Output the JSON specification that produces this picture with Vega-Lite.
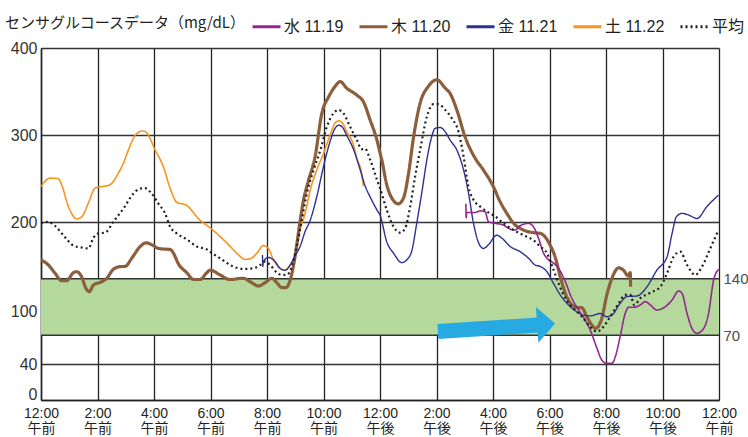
{
  "$schema": "https://vega.github.io/schema/vega-lite/v6.json",
  "width": 678,
  "height": 352,
  "autosize": {"type": "none"},
  "padding": {"left": 41, "top": 48, "right": 29, "bottom": 37},
  "background": "white",
  "config": {
    "view": {"stroke": null},
    "font": "Liberation Sans, Noto Sans CJK JP, sans-serif",
    "axis": {"labelFont": "Liberation Sans, Noto Sans CJK JP, sans-serif", "labelColor": "#231f20", "ticks": false, "domainColor": "#222222", "domainWidth": 1.5, "title": null},
    "legend": {"labelFont": "Liberation Sans, Noto Sans CJK JP, sans-serif", "titleFont": "Noto Sans CJK JP, sans-serif"}
  },
  "datasets": {
    "cgm": [
      {"day":"土 11.22","h":0.0,"v":240.7},{"day":"土 11.22","h":0.32,"v":250.6},{"day":"土 11.22","h":0.61,"v":250},{"day":"土 11.22","h":0.73,"v":243},{"day":"土 11.22","h":0.97,"v":218},{"day":"土 11.22","h":1.26,"v":203.5},{"day":"土 11.22","h":1.44,"v":206},{"day":"土 11.22","h":1.68,"v":222},{"day":"土 11.22","h":1.91,"v":239},{"day":"土 11.22","h":2.44,"v":243},{"day":"土 11.22","h":2.8,"v":260},{"day":"土 11.22","h":3.39,"v":302},{"day":"土 11.22","h":3.62,"v":305},{"day":"土 11.22","h":3.74,"v":303},{"day":"土 11.22","h":4.04,"v":283},{"day":"土 11.22","h":4.33,"v":264},{"day":"土 11.22","h":4.57,"v":239},{"day":"土 11.22","h":4.8,"v":223},{"day":"土 11.22","h":5.16,"v":219},{"day":"土 11.22","h":5.63,"v":202},{"day":"土 11.22","h":5.98,"v":194},{"day":"土 11.22","h":6.57,"v":178},{"day":"土 11.22","h":6.93,"v":167},{"day":"土 11.22","h":7.22,"v":160.5},{"day":"土 11.22","h":7.4,"v":161},{"day":"土 11.22","h":7.64,"v":167},{"day":"土 11.22","h":7.87,"v":175},{"day":"土 11.22","h":8.05,"v":172},{"day":"土 11.22","h":8.23,"v":160},{"day":"土 11.22","h":8.46,"v":151},{"day":"土 11.22","h":8.64,"v":149},{"day":"土 11.22","h":8.82,"v":154.5},{"day":"土 11.22","h":8.99,"v":165},{"day":"土 11.22","h":9.17,"v":191.5},{"day":"土 11.22","h":9.35,"v":210},{"day":"土 11.22","h":9.53,"v":237},{"day":"土 11.22","h":9.76,"v":260},{"day":"土 11.22","h":10.0,"v":279},{"day":"土 11.22","h":10.23,"v":300},{"day":"土 11.22","h":10.41,"v":314},{"day":"土 11.22","h":10.53,"v":316.5},{"day":"土 11.22","h":10.65,"v":315},{"day":"土 11.22","h":10.82,"v":304},{"day":"土 11.22","h":11.06,"v":289},{"day":"土 11.22","h":11.18,"v":273.5},{"day":"土 11.22","h":11.35,"v":256},{"day":"土 11.22","h":11.41,"v":241.5},

      {"day":"木 11.20","h":0.0,"v":160},{"day":"木 11.20","h":0.26,"v":154.5},{"day":"木 11.20","h":0.5,"v":145.7},{"day":"木 11.20","h":0.73,"v":137.5},{"day":"木 11.20","h":0.9,"v":137.5},{"day":"木 11.20","h":1.15,"v":146.4},{"day":"木 11.20","h":1.26,"v":147.4},{"day":"木 11.20","h":1.44,"v":142},{"day":"木 11.20","h":1.59,"v":128},{"day":"木 11.20","h":1.71,"v":124},{"day":"木 11.20","h":1.85,"v":132},{"day":"木 11.20","h":2.15,"v":136.3},{"day":"木 11.20","h":2.33,"v":140.5},{"day":"木 11.20","h":2.56,"v":150},{"day":"木 11.20","h":2.8,"v":152.8},{"day":"木 11.20","h":2.98,"v":153},{"day":"木 11.20","h":3.21,"v":161.6},{"day":"木 11.20","h":3.51,"v":174},{"day":"木 11.20","h":3.72,"v":178},{"day":"木 11.20","h":3.92,"v":176},{"day":"木 11.20","h":4.16,"v":172},{"day":"木 11.20","h":4.33,"v":171.4},{"day":"木 11.20","h":4.57,"v":171},{"day":"木 11.20","h":4.69,"v":167},{"day":"木 11.20","h":4.86,"v":156},{"day":"木 11.20","h":5.16,"v":146.4},{"day":"木 11.20","h":5.4,"v":139},{"day":"木 11.20","h":5.63,"v":139},{"day":"木 11.20","h":5.87,"v":146.4},{"day":"木 11.20","h":5.99,"v":149},{"day":"木 11.20","h":6.34,"v":144},{"day":"木 11.20","h":6.69,"v":139},{"day":"木 11.20","h":7.16,"v":140.5},{"day":"木 11.20","h":7.4,"v":136.3},{"day":"木 11.20","h":7.7,"v":131},{"day":"木 11.20","h":7.93,"v":135},{"day":"木 11.20","h":8.17,"v":140.5},{"day":"木 11.20","h":8.35,"v":135},{"day":"木 11.20","h":8.52,"v":129},{"day":"木 11.20","h":8.67,"v":129},{"day":"木 11.20","h":8.82,"v":138.4},{"day":"木 11.20","h":8.99,"v":163},{"day":"木 11.20","h":9.11,"v":188},{"day":"木 11.20","h":9.29,"v":225},{"day":"木 11.20","h":9.47,"v":248},{"day":"木 11.20","h":9.7,"v":275},{"day":"木 11.20","h":9.94,"v":325},{"day":"木 11.20","h":10.18,"v":344},{"day":"木 11.20","h":10.41,"v":356},{"day":"木 11.20","h":10.59,"v":361.6},{"day":"木 11.20","h":10.82,"v":354},{"day":"木 11.20","h":11.18,"v":346},{"day":"木 11.20","h":11.41,"v":338.6},{"day":"木 11.20","h":11.65,"v":317.6},{"day":"木 11.20","h":11.89,"v":294.6},{"day":"木 11.20","h":12.0,"v":280},{"day":"木 11.20","h":12.1,"v":266},{"day":"木 11.20","h":12.2,"v":248.5},{"day":"木 11.20","h":12.42,"v":227.5},{"day":"木 11.20","h":12.65,"v":221},{"day":"木 11.20","h":12.83,"v":227.5},{"day":"木 11.20","h":13.01,"v":256},{"day":"木 11.20","h":13.19,"v":298.4},{"day":"木 11.20","h":13.42,"v":336.8},{"day":"木 11.20","h":13.71,"v":356},{"day":"木 11.20","h":14.01,"v":363.6},{"day":"木 11.20","h":14.31,"v":354},{"day":"木 11.20","h":14.48,"v":348},{"day":"木 11.20","h":14.72,"v":329},{"day":"木 11.20","h":15.01,"v":298.4},{"day":"木 11.20","h":15.37,"v":273.5},{"day":"木 11.20","h":15.66,"v":260},{"day":"木 11.20","h":16.01,"v":241},{"day":"木 11.20","h":16.25,"v":223.5},{"day":"木 11.20","h":16.49,"v":210},{"day":"木 11.20","h":16.73,"v":198.6},{"day":"木 11.20","h":17.08,"v":191.5},{"day":"木 11.20","h":17.43,"v":188.7},{"day":"木 11.20","h":17.67,"v":188},{"day":"木 11.20","h":17.85,"v":184},{"day":"木 11.20","h":18.03,"v":175},{"day":"木 11.20","h":18.2,"v":163},{"day":"木 11.20","h":18.38,"v":142},{"day":"木 11.20","h":18.56,"v":122},{"day":"木 11.20","h":18.74,"v":109.6},{"day":"木 11.20","h":18.97,"v":104.6},{"day":"木 11.20","h":19.15,"v":104},{"day":"木 11.20","h":19.32,"v":93},{"day":"木 11.20","h":19.64,"v":78.7},{"day":"木 11.20","h":19.85,"v":91},{"day":"木 11.20","h":20.03,"v":120},{"day":"木 11.20","h":20.21,"v":140.5},{"day":"木 11.20","h":20.45,"v":151.5},{"day":"木 11.20","h":20.62,"v":149},{"day":"木 11.20","h":20.78,"v":143},{"day":"木 11.20","h":20.86,"v":146.4},{"day":"木 11.20","h":20.87,"v":130},

      {"day":"金 11.21","h":7.84,"v":165},{"day":"金 11.21","h":7.85,"v":153},{"day":"金 11.21","h":7.87,"v":158},{"day":"金 11.21","h":8.05,"v":162.5},{"day":"金 11.21","h":8.29,"v":158},{"day":"金 11.21","h":8.46,"v":151},{"day":"金 11.21","h":8.64,"v":149},{"day":"金 11.21","h":8.82,"v":154.5},{"day":"金 11.21","h":8.99,"v":164},{"day":"金 11.21","h":9.17,"v":174},{"day":"金 11.21","h":9.35,"v":190},{"day":"金 11.21","h":9.53,"v":202},{"day":"金 11.21","h":9.76,"v":229},{"day":"金 11.21","h":10.0,"v":264},{"day":"金 11.21","h":10.23,"v":292.6},{"day":"金 11.21","h":10.41,"v":308},{"day":"金 11.21","h":10.53,"v":311.5},{"day":"金 11.21","h":10.65,"v":310},{"day":"金 11.21","h":10.82,"v":300},{"day":"金 11.21","h":11.06,"v":284},{"day":"金 11.21","h":11.3,"v":260},{"day":"金 11.21","h":11.48,"v":241},{"day":"金 11.21","h":11.65,"v":229},{"day":"金 11.21","h":11.89,"v":214},{"day":"金 11.21","h":12.0,"v":208},{"day":"金 11.21","h":12.24,"v":179},{"day":"金 11.21","h":12.48,"v":167},{"day":"金 11.21","h":12.77,"v":157},{"day":"金 11.21","h":12.95,"v":160},{"day":"金 11.21","h":13.13,"v":170},{"day":"金 11.21","h":13.3,"v":198.6},{"day":"金 11.21","h":13.48,"v":234},{"day":"金 11.21","h":13.66,"v":272},{"day":"金 11.21","h":13.83,"v":298.4},{"day":"金 11.21","h":13.95,"v":308},{"day":"金 11.21","h":14.13,"v":309},{"day":"金 11.21","h":14.31,"v":304},{"day":"金 11.21","h":14.48,"v":294.6},{"day":"金 11.21","h":14.72,"v":283},{"day":"金 11.21","h":14.96,"v":260},{"day":"金 11.21","h":15.13,"v":234},{"day":"金 11.21","h":15.31,"v":198.6},{"day":"金 11.21","h":15.49,"v":178},{"day":"金 11.21","h":15.66,"v":172},{"day":"金 11.21","h":15.84,"v":176},{"day":"金 11.21","h":16.13,"v":186},{"day":"金 11.21","h":16.31,"v":183},{"day":"金 11.21","h":16.61,"v":174},{"day":"金 11.21","h":16.96,"v":168.6},{"day":"金 11.21","h":17.26,"v":161.6},{"day":"金 11.21","h":17.49,"v":154.5},{"day":"金 11.21","h":17.67,"v":153},{"day":"金 11.21","h":17.91,"v":147.4},{"day":"金 11.21","h":18.14,"v":134.3},{"day":"金 11.21","h":18.38,"v":120},{"day":"金 11.21","h":18.67,"v":107.5},{"day":"金 11.21","h":18.97,"v":99},{"day":"金 11.21","h":19.2,"v":95},{"day":"金 11.21","h":19.44,"v":94},{"day":"金 11.21","h":19.8,"v":97},{"day":"金 11.21","h":20.03,"v":93},{"day":"金 11.21","h":20.21,"v":95},{"day":"金 11.21","h":20.5,"v":109.6},{"day":"金 11.21","h":20.74,"v":118},{"day":"金 11.21","h":21.09,"v":118.6},{"day":"金 11.21","h":21.45,"v":130},{"day":"金 11.21","h":21.8,"v":149},{"day":"金 11.21","h":22.16,"v":163},{"day":"金 11.21","h":22.34,"v":188},{"day":"金 11.21","h":22.49,"v":206},{"day":"金 11.21","h":22.69,"v":210},{"day":"金 11.21","h":22.93,"v":208},{"day":"金 11.21","h":23.22,"v":204},{"day":"金 11.21","h":23.57,"v":217.7},{"day":"金 11.21","h":23.98,"v":231},

      {"day":"水 11.19","h":15.04,"v":221},{"day":"水 11.19","h":15.05,"v":205},{"day":"水 11.19","h":15.07,"v":211},{"day":"水 11.19","h":15.37,"v":211},{"day":"水 11.19","h":15.54,"v":212.8},{"day":"水 11.19","h":15.72,"v":212},{"day":"水 11.19","h":15.84,"v":200.3},{"day":"水 11.19","h":16.08,"v":198.6},{"day":"水 11.19","h":16.37,"v":196.8},{"day":"水 11.19","h":16.55,"v":193.3},{"day":"水 11.19","h":16.79,"v":191.5},{"day":"水 11.19","h":16.96,"v":196},{"day":"水 11.19","h":17.26,"v":198.6},{"day":"水 11.19","h":17.43,"v":195},{"day":"水 11.19","h":17.61,"v":183},{"day":"水 11.19","h":17.79,"v":167},{"day":"水 11.19","h":17.97,"v":160},{"day":"水 11.19","h":18.1,"v":157.5},{"day":"水 11.19","h":18.32,"v":151},{"day":"水 11.19","h":18.56,"v":136.3},{"day":"水 11.19","h":18.79,"v":115.8},{"day":"水 11.19","h":19.03,"v":101.3},{"day":"水 11.19","h":19.26,"v":89},{"day":"水 11.19","h":19.44,"v":76.6},{"day":"水 11.19","h":19.68,"v":56.6},{"day":"水 11.19","h":19.85,"v":44.4},{"day":"水 11.19","h":20.03,"v":41},{"day":"水 11.19","h":20.21,"v":41},{"day":"水 11.19","h":20.33,"v":47.9},{"day":"水 11.19","h":20.5,"v":68.6},{"day":"水 11.19","h":20.68,"v":97},{"day":"水 11.19","h":20.8,"v":104.6},{"day":"水 11.19","h":20.97,"v":104.6},{"day":"水 11.19","h":21.21,"v":107.5},{"day":"水 11.19","h":21.39,"v":111.6},{"day":"水 11.19","h":21.57,"v":107.5},{"day":"水 11.19","h":21.8,"v":101.3},{"day":"水 11.19","h":22.1,"v":105.4},{"day":"水 11.19","h":22.34,"v":113.7},{"day":"水 11.19","h":22.57,"v":124.8},{"day":"水 11.19","h":22.69,"v":122},{"day":"水 11.19","h":22.87,"v":97},{"day":"水 11.19","h":23.04,"v":78.7},{"day":"水 11.19","h":23.22,"v":72.5},{"day":"水 11.19","h":23.46,"v":78.7},{"day":"水 11.19","h":23.63,"v":97},{"day":"水 11.19","h":23.81,"v":138.4},{"day":"水 11.19","h":23.99,"v":150},

      {"day":"平均","h":0.0,"v":198.6},{"day":"平均","h":0.26,"v":200.3},{"day":"平均","h":0.5,"v":195.8},{"day":"平均","h":0.79,"v":186},{"day":"平均","h":1.15,"v":175},{"day":"平均","h":1.44,"v":173},{"day":"平均","h":1.68,"v":172},{"day":"平均","h":1.85,"v":183},{"day":"平均","h":2.03,"v":188},{"day":"平均","h":2.27,"v":188.7},{"day":"平均","h":2.56,"v":200.3},{"day":"平均","h":2.92,"v":215.6},{"day":"平均","h":3.27,"v":232.7},{"day":"平均","h":3.51,"v":238.5},{"day":"平均","h":3.68,"v":239},{"day":"平均","h":3.92,"v":232.7},{"day":"平均","h":4.16,"v":221},{"day":"平均","h":4.39,"v":210},{"day":"平均","h":4.57,"v":195},{"day":"平均","h":4.8,"v":188},{"day":"平均","h":5.16,"v":181.7},{"day":"平均","h":5.51,"v":174},{"day":"平均","h":5.87,"v":171},{"day":"平均","h":5.98,"v":168.6},{"day":"平均","h":6.34,"v":161.6},{"day":"平均","h":6.81,"v":152.8},{"day":"平均","h":7.16,"v":150.3},{"day":"平均","h":7.52,"v":151},{"day":"平均","h":7.76,"v":154.5},{"day":"平均","h":7.93,"v":158},{"day":"平均","h":8.11,"v":154.5},{"day":"平均","h":8.35,"v":146.4},{"day":"平均","h":8.52,"v":144},{"day":"平均","h":8.7,"v":144},{"day":"平均","h":8.88,"v":152.8},{"day":"平均","h":9.05,"v":174},{"day":"平均","h":9.23,"v":202},{"day":"平均","h":9.41,"v":233},{"day":"平均","h":9.65,"v":260},{"day":"平均","h":9.89,"v":283},{"day":"平均","h":10.12,"v":310},{"day":"平均","h":10.35,"v":325},{"day":"平均","h":10.53,"v":329},{"day":"平均","h":10.71,"v":325},{"day":"平均","h":10.94,"v":310},{"day":"平均","h":11.18,"v":294.6},{"day":"平均","h":11.35,"v":284},{"day":"平均","h":11.47,"v":284.6},{"day":"平均","h":11.65,"v":272},{"day":"平均","h":11.89,"v":249},{"day":"平均","h":12.0,"v":239},{"day":"平均","h":12.24,"v":213.8},{"day":"平均","h":12.48,"v":195},{"day":"平均","h":12.71,"v":188.7},{"day":"平均","h":12.89,"v":193.3},{"day":"平均","h":13.07,"v":218},{"day":"平均","h":13.24,"v":252},{"day":"平均","h":13.42,"v":283},{"day":"平均","h":13.66,"v":321.4},{"day":"平均","h":13.89,"v":335.6},{"day":"平均","h":14.07,"v":335.6},{"day":"平均","h":14.31,"v":329},{"day":"平均","h":14.54,"v":319.5},{"day":"平均","h":14.78,"v":304},{"day":"平均","h":14.96,"v":275.4},{"day":"平均","h":15.13,"v":241},{"day":"平均","h":15.31,"v":225.6},{"day":"平均","h":15.54,"v":218},{"day":"平均","h":15.78,"v":212.2},{"day":"平均","h":16.08,"v":206.4},{"day":"平均","h":16.37,"v":198.6},{"day":"平均","h":16.73,"v":191.5},{"day":"平均","h":17.08,"v":186},{"day":"平均","h":17.43,"v":180.7},{"day":"平均","h":17.67,"v":174},{"day":"平均","h":17.91,"v":167},{"day":"平均","h":18.08,"v":154.5},{"day":"平均","h":18.32,"v":134.3},{"day":"平均","h":18.56,"v":115.8},{"day":"平均","h":18.85,"v":103.4},{"day":"平均","h":19.15,"v":93},{"day":"平均","h":19.44,"v":80.6},{"day":"平均","h":19.68,"v":74.5},{"day":"平均","h":19.91,"v":80.6},{"day":"平均","h":20.15,"v":93},{"day":"平均","h":20.45,"v":109.6},{"day":"平均","h":20.68,"v":120},{"day":"平均","h":20.86,"v":120},{"day":"平均","h":21.0,"v":107.5},{"day":"平均","h":21.21,"v":115.8},{"day":"平均","h":21.57,"v":122.7},{"day":"平均","h":21.92,"v":130},{"day":"平均","h":22.16,"v":145.7},{"day":"平均","h":22.39,"v":163},{"day":"平均","h":22.63,"v":168.6},{"day":"平均","h":22.87,"v":154.5},{"day":"平均","h":23.16,"v":144},{"day":"平均","h":23.4,"v":152.8},{"day":"平均","h":23.69,"v":172},{"day":"平均","h":23.98,"v":191.5}
    ],
    "band": [{"lo": 70, "hi": 140}],
    "edges": [{"g": 70}, {"g": 140}],
    "arrowBody": [{"h": 14.05, "v": 74.7}, {"h": 17.6, "v": 82.8}],
    "arrowHead": [{"h": 17.88, "v": 83.7}]
  },
  "layer": [
    {
      "data": {"name": "band"},
      "mark": {"type": "rect", "fill": "#b5d99c"},
      "encoding": {
        "y": {"field": "lo", "type": "quantitative",
              "scale": {"domain": [0, 40, 70, 140, 200, 300, 400], "range": [352, 316.3, 287.3, 230.7, 174, 87.3, 0], "nice": false, "zero": false},
              "axis": {"orient": "left", "values": [0, 40, 100, 200, 300, 400], "grid": true,
                       "gridColor": {"condition": {"test": "datum.value == 100", "value": "transparent"}, "value": "#333333"},
                       "labelOffset": {"condition": {"test": "datum.value == 0", "value": -6}, "value": 0},
                       "gridWidth": 1.3, "labelFontSize": 16, "labelPadding": 4, "labelColor": "#333333", "title": null}},
        "y2": {"field": "hi"}
      }
    },
    {
      "data": {"name": "edges"},
      "mark": {"type": "rule", "color": "#333333", "strokeWidth": 1.5},
      "encoding": {
        "y": {"field": "g", "type": "quantitative",
              "axis": {"orient": "right", "values": [70, 140], "grid": false, "domain": false, "labelFontSize": 15, "labelPadding": 4, "labelColor": "#4d4d4d", "title": null}}
      }
    },
    {
      "data": {"name": "cgm"},
      "mark": {"type": "line", "interpolate": "monotone"},
      "encoding": {
        "x": {"field": "h", "type": "quantitative",
              "scale": {"domain": [0, 24], "nice": false, "zero": false},
              "axis": {"values": [0, 2, 4, 6, 8, 10, 12, 14, 16, 18, 20, 22, 24], "grid": true, "gridColor": "#222222", "gridWidth": 1.3,
                       "labelFlush": false, "labelOverlap": false,
                       "labelFontSize": 14, "labelLineHeight": 15, "labelPadding": 6, "title": null,
                       "labelExpr": "[(datum.value % 12 == 0 ? '12' : '' + (datum.value % 12)) + ':00', (datum.value < 12 || datum.value == 24) ? '午前' : '午後']"}},
        "y": {"field": "v", "type": "quantitative", "axis": null},
        "color": {"field": "day", "type": "nominal", "title": "センサグルコースデータ（mg/dL）",
                  "scale": {"domain": ["水 11.19", "木 11.20", "金 11.21", "土 11.22", "平均"], "range": ["#93278f", "#8b5e3c", "#2e3192", "#f7941d", "#231f20"]},
                  "legend": {"orient": "none", "legendX": -36, "legendY": -37, "direction": "horizontal", "titleOrient": "left",
                             "titleFontSize": 15, "titleFontWeight": "normal", "titleColor": "#231f20", "titleLimit": 400, "titlePadding": 5,
                             "labelFontSize": 16, "labelColor": "#231f20", "labelLimit": 200, "labelOffset": 2,
                             "symbolType": "stroke", "symbolSize": 784, "symbolStrokeWidth": 3, "columnPadding": 9}},
        "strokeDash": {"field": "day", "type": "nominal", "title": "センサグルコースデータ（mg/dL）",
                       "scale": {"domain": ["水 11.19", "木 11.20", "金 11.21", "土 11.22", "平均"], "range": [[1, 0], [1, 0], [1, 0], [1, 0], [2, 3]]}},
        "strokeWidth": {"condition": [{"test": "datum.day === '木 11.20'", "value": 3.2}, {"test": "datum.day === '平均'", "value": 2.2}, {"test": "datum.day === '金 11.21'", "value": 1.4}], "value": 1.6}
      }
    },
    {
      "data": {"name": "arrowBody"},
      "mark": {"type": "line", "color": "#27aae1", "strokeWidth": 15, "strokeCap": "butt"},
      "encoding": {
        "x": {"field": "h", "type": "quantitative"},
        "y": {"field": "v", "type": "quantitative", "axis": null}
      }
    },
    {
      "data": {"name": "arrowHead"},
      "mark": {"type": "point", "shape": "M-0.5,-1L0.5,0L-0.5,1Z", "size": 1296, "angle": -4, "filled": true, "color": "#27aae1", "opacity": 1, "strokeWidth": 0},
      "encoding": {
        "x": {"field": "h", "type": "quantitative"},
        "y": {"field": "v", "type": "quantitative", "axis": null}
      }
    }
  ],
  "resolve": {"axis": {"y": "independent"}}
}
